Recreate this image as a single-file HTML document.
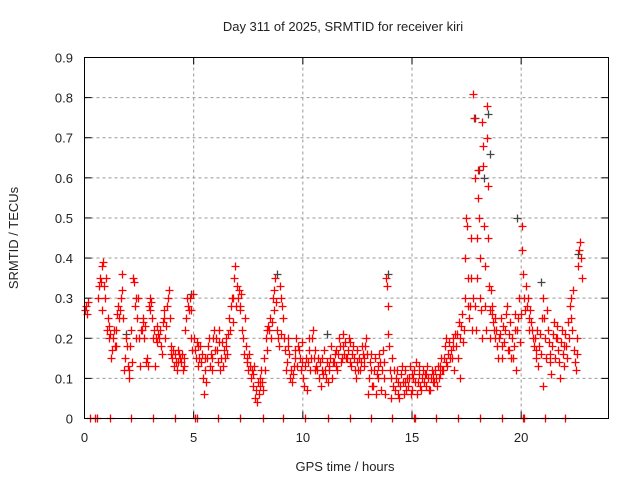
<!DOCTYPE html>
<html><head><meta charset="utf-8"><style>
body{margin:0;background:#fff;}
svg{display:block;font-family:"Liberation Sans",sans-serif;}
</style></head><body>
<svg id="chart" width="640" height="480" xmlns="http://www.w3.org/2000/svg">
<rect width="640" height="480" fill="#fff"/>
<text x="343" y="31" font-size="13" text-anchor="middle" fill="#222">Day 311 of 2025, SRMTID for receiver kiri</text>
<text x="345" y="471" font-size="13" text-anchor="middle" fill="#222">GPS time / hours</text>
<text transform="translate(18,238) rotate(-90)" font-size="13" text-anchor="middle" fill="#222">SRMTID / TECUs</text>
<g id="grid"></g>
<g id="axes"></g>
<g id="grey"></g>
<g id="red"></g>
<rect x="84.5" y="57.5" width="524" height="361" fill="none" stroke="#000" stroke-width="1"/>
</svg>
<script>
const xTicks=[0,5,10,15,20];
const yTicks=[0,0.1,0.2,0.3,0.4,0.5,0.6,0.7,0.8,0.9];
const yTickLabels=["0","0.1","0.2","0.3","0.4","0.5","0.6","0.7","0.8","0.9"];
const redTimes=[0.0,0.6,0.8,1.0,1.2,1.4,1.6,1.8,2.0,2.2,2.4,2.6,2.8,3.0,3.2,3.4,3.6,3.8,4.0,4.2,4.4,4.6,4.8,5.0,5.2,5.4,5.6,5.8,6.0,6.2,6.4,6.6,6.8,7.0,7.2,7.4,7.6,7.8,8.0,8.2,8.4,8.6,8.8,9.0,9.2,9.4,9.6,9.8,10.0,10.2,10.4,10.6,10.8,11.0,11.2,11.4,11.6,11.8,12.0,12.2,12.4,12.6,12.8,13.0,13.2,13.4,13.6,13.8,14.0,14.2,14.4,14.6,14.8,15.0,15.2,15.4,15.6,15.8,16.0,16.2,16.4,16.6,16.8,17.0,17.2,17.4,17.6,17.8,18.0,18.2,18.4,18.6,18.8,19.0,19.2,19.4,19.6,19.8,20.0,20.2,20.4,20.6,20.8,21.0,21.2,21.4,21.6,21.8,22.0,22.2,22.4,22.6];
const redValues=[
[0.27,0.28,0.26,0.29],[0.30,0.33,0.35,0.34,0.27],[0.38,0.39,0.33,0.30,0.35],[0.22,0.25,0.20,0.23,0.21],[0.15,0.17,0.20,0.22,0.18],
[0.18,0.22,0.26,0.28,0.25],[0.27,0.30,0.32,0.36,0.25],[0.12,0.15,0.20,0.18,0.13],[0.10,0.12,0.18,0.22,0.14],[0.35,0.34,0.28,0.20,0.30],
[0.25,0.30,0.20,0.13,0.22],[0.22,0.25,0.24,0.20,0.23],[0.14,0.15,0.13,0.28,0.30],[0.27,0.29,0.25,0.20,0.22],[0.13,0.20,0.23,0.19,0.21],
[0.20,0.22,0.18,0.16,0.24],[0.25,0.27,0.20,0.23,0.28],[0.30,0.32,0.25,0.16,0.18],[0.15,0.17,0.13,0.16,0.14],[0.12,0.14,0.17,0.16,0.15],
[0.14,0.16,0.12,0.15,0.13],[0.22,0.25,0.30,0.28,0.27],[0.30,0.27,0.20,0.17,0.31],[0.20,0.17,0.15,0.19,0.18],[0.13,0.15,0.18,0.14,0.16],
[0.10,0.06,0.12,0.15,0.09],[0.15,0.18,0.20,0.13,0.16],[0.12,0.15,0.20,0.22,0.17],[0.20,0.17,0.14,0.22,0.19],[0.12,0.15,0.19,0.13,0.17],
[0.15,0.20,0.18,0.16,0.21],[0.25,0.22,0.28,0.30,0.24],[0.30,0.35,0.38,0.28,0.33],[0.30,0.32,0.28,0.27,0.31],[0.22,0.20,0.16,0.25,0.18],
[0.15,0.14,0.12,0.16,0.13],[0.10,0.12,0.08,0.11,0.13],[0.05,0.07,0.04,0.09,0.06],[0.08,0.10,0.12,0.09,0.07],[0.15,0.12,0.20,0.17,0.22],
[0.23,0.22,0.25,0.20,0.24],[0.30,0.32,0.27,0.35,0.29],[0.22,0.20,0.18,0.33,0.21],[0.30,0.28,0.25,0.20,0.17],[0.12,0.14,0.18,0.20,0.16],
[0.10,0.12,0.09,0.11,0.13],[0.15,0.17,0.20,0.13,0.18],[0.17,0.15,0.12,0.14,0.19],[0.10,0.08,0.13,0.15,0.07],[0.14,0.17,0.20,0.12,0.15],
[0.20,0.22,0.15,0.12,0.17],[0.13,0.12,0.15,0.10,0.14],[0.08,0.12,0.15,0.11,0.17],[0.12,0.10,0.14,0.09,0.13],[0.12,0.15,0.18,0.10,0.14],
[0.14,0.16,0.13,0.17,0.12],[0.16,0.20,0.18,0.14,0.15],[0.18,0.21,0.16,0.19,0.15],[0.15,0.17,0.20,0.19,0.14],[0.13,0.16,0.18,0.15,0.12],
[0.10,0.14,0.17,0.12,0.15],[0.12,0.14,0.18,0.16,0.13],[0.15,0.18,0.20,0.16,0.06],[0.10,0.14,0.12,0.16,0.08],[0.08,0.12,0.15,0.06,0.11],
[0.10,0.13,0.16,0.14,0.07],[0.12,0.17,0.14,0.10,0.06],[0.35,0.33,0.28,0.21,0.18,0.12],[0.10,0.05,0.15,0.08,0.12],[0.07,0.10,0.12,0.06,0.09],
[0.05,0.08,0.11,0.13,0.09],[0.06,0.09,0.12,0.07,0.10],[0.08,0.10,0.13,0.06,0.11],[0.07,0.10,0.12,0.09,0.14],[0.06,0.09,0.11,0.13,0.08],
[0.07,0.10,0.12,0.09,0.11],[0.08,0.11,0.13,0.10,0.07],[0.07,0.10,0.12,0.09,0.11],[0.09,0.12,0.10,0.08,0.13],[0.10,0.13,0.11,0.15,0.12],
[0.12,0.15,0.18,0.14,0.20],[0.13,0.16,0.19,0.15,0.17],[0.15,0.18,0.20,0.12,0.21],[0.18,0.21,0.15,0.24,0.10],[0.20,0.23,0.26,0.19,0.22],
[0.30,0.40,0.50,0.48,0.35,0.28],[0.25,0.28,0.35,0.45,0.22,0.30],[0.81,0.75,0.60,0.28,0.22,0.35,0.45],[0.62,0.55,0.50,0.40,0.30,0.27,0.20],[0.74,0.68,0.63,0.48,0.38,0.28,0.22],
[0.78,0.70,0.58,0.45,0.33,0.27,0.20],[0.32,0.28,0.26,0.24,0.22,0.20],[0.25,0.22,0.18,0.15,0.20],[0.21,0.25,0.18,0.15,0.23],[0.19,0.22,0.26,0.28,0.17],
[0.17,0.21,0.24,0.15,0.20],[0.15,0.18,0.22,0.26,0.12],[0.22,0.25,0.30,0.19,0.26],[0.48,0.42,0.36,0.30,0.27],[0.33,0.28,0.30,0.25,0.22],
[0.27,0.24,0.22,0.20,0.18],[0.20,0.17,0.15,0.22,0.13],[0.18,0.21,0.16,0.25,0.08],[0.30,0.25,0.20,0.15,0.27],[0.22,0.19,0.16,0.14,0.11],
[0.18,0.21,0.24,0.15,0.20],[0.20,0.23,0.17,0.14,0.10],[0.19,0.22,0.16,0.18,0.13],[0.21,0.18,0.15,0.24,0.20],[0.28,0.30,0.25,0.22,0.32],
[0.17,0.14,0.12,0.20,0.16],[0.38,0.42,0.44,0.40,0.35]];
const greyTimes=[1.9,4.9,8.8,11.1,13.9,17.9,18.05,18.3,18.5,18.55,19.8,20.9,22.6];
const greyValues=[0.21,0.31,0.36,0.21,0.36,0.75,0.62,0.60,0.76,0.66,0.50,0.34,0.41];
const zeroTimes=[0.25,0.5,0.55,1.15,2.15,3.15,4.15,5.08,5.15,6.1,7.14,8.17,9.1,10.1,11.15,12.14,13.1,14.1,15.1,15.15,16.1,17.1,18.1,19.1,20.1,20.15,21.1,22.0];

const X0=84.5,X1=608.5,Y0=418.5,Y1=57.5,XMAX=24,YMAX=0.9;
function xs(t){return X0+(X1-X0)*t/XMAX;}
function ys(v){return Y0-(Y0-Y1)*v/YMAX;}
const NS='http://www.w3.org/2000/svg';
function mk(tag,attrs,parent){const e=document.createElementNS(NS,tag);for(const k in attrs)e.setAttribute(k,attrs[k]);parent.appendChild(e);return e;}
const grid=document.getElementById('grid'),axes=document.getElementById('axes');
yTicks.forEach((v,i)=>{
  const y=ys(v);
  if(v>0&&v<YMAX){const g=mk('line',{x1:X0,x2:X1,y1:y,y2:y,stroke:'#999','stroke-dasharray':'3,3'},grid);
  
  }
  mk('line',{x1:X0,x2:X0+7,y1:y,y2:y,stroke:'#000'},axes);
  mk('line',{x1:X1-7,x2:X1,y1:y,y2:y,stroke:'#000'},axes);
  const t=mk('text',{x:73,y:y+5,'font-size':13,'text-anchor':'end',fill:'#222'},axes);
  t.textContent=yTickLabels[i];
  
  
});
xTicks.forEach(v=>{
  const x=xs(v);
  if(v>0){const g=mk('line',{x1:x,x2:x,y1:Y0,y2:Y1,stroke:'#999','stroke-dasharray':'3,3'},grid);
  
  }
  mk('line',{x1:x,x2:x,y1:Y0,y2:Y0-7,stroke:'#000'},axes);
  mk('line',{x1:x,x2:x,y1:Y1,y2:Y1+7,stroke:'#000'},axes);
  const t=mk('text',{x:x,y:442,'font-size':13,'text-anchor':'middle',fill:'#222'},axes);
  t.textContent=String(v);
  
  
});
function plus(g,x,y,c,name){
  const p=mk('path',{d:`M${x-4},${y}H${x+4}M${x},${y-4}V${y+4}`,stroke:c,'stroke-width':1.3,fill:'none'},g);
  
  
}
const greyG=document.getElementById('grey'),redG=document.getElementById('red');
greyTimes.forEach((t,i)=>plus(greyG,Math.round(xs(t))+0.5,Math.round(ys(greyValues[i]))+0.5,'#444','grey-point'));
redTimes.forEach((t,i)=>{
  const vals=redValues[i],n=vals.length;
  vals.forEach((v,j)=>{
    const tt=t+0.2*(j+0.5)/n;
    plus(redG,Math.round(xs(tt))+0.5,Math.round(ys(v))+0.5,'#ff0000','red-point');
  });
});
zeroTimes.forEach(t=>plus(redG,Math.round(xs(t))+0.5,Y0,'#ff0000','zero-point'));
</script>
</body></html>
